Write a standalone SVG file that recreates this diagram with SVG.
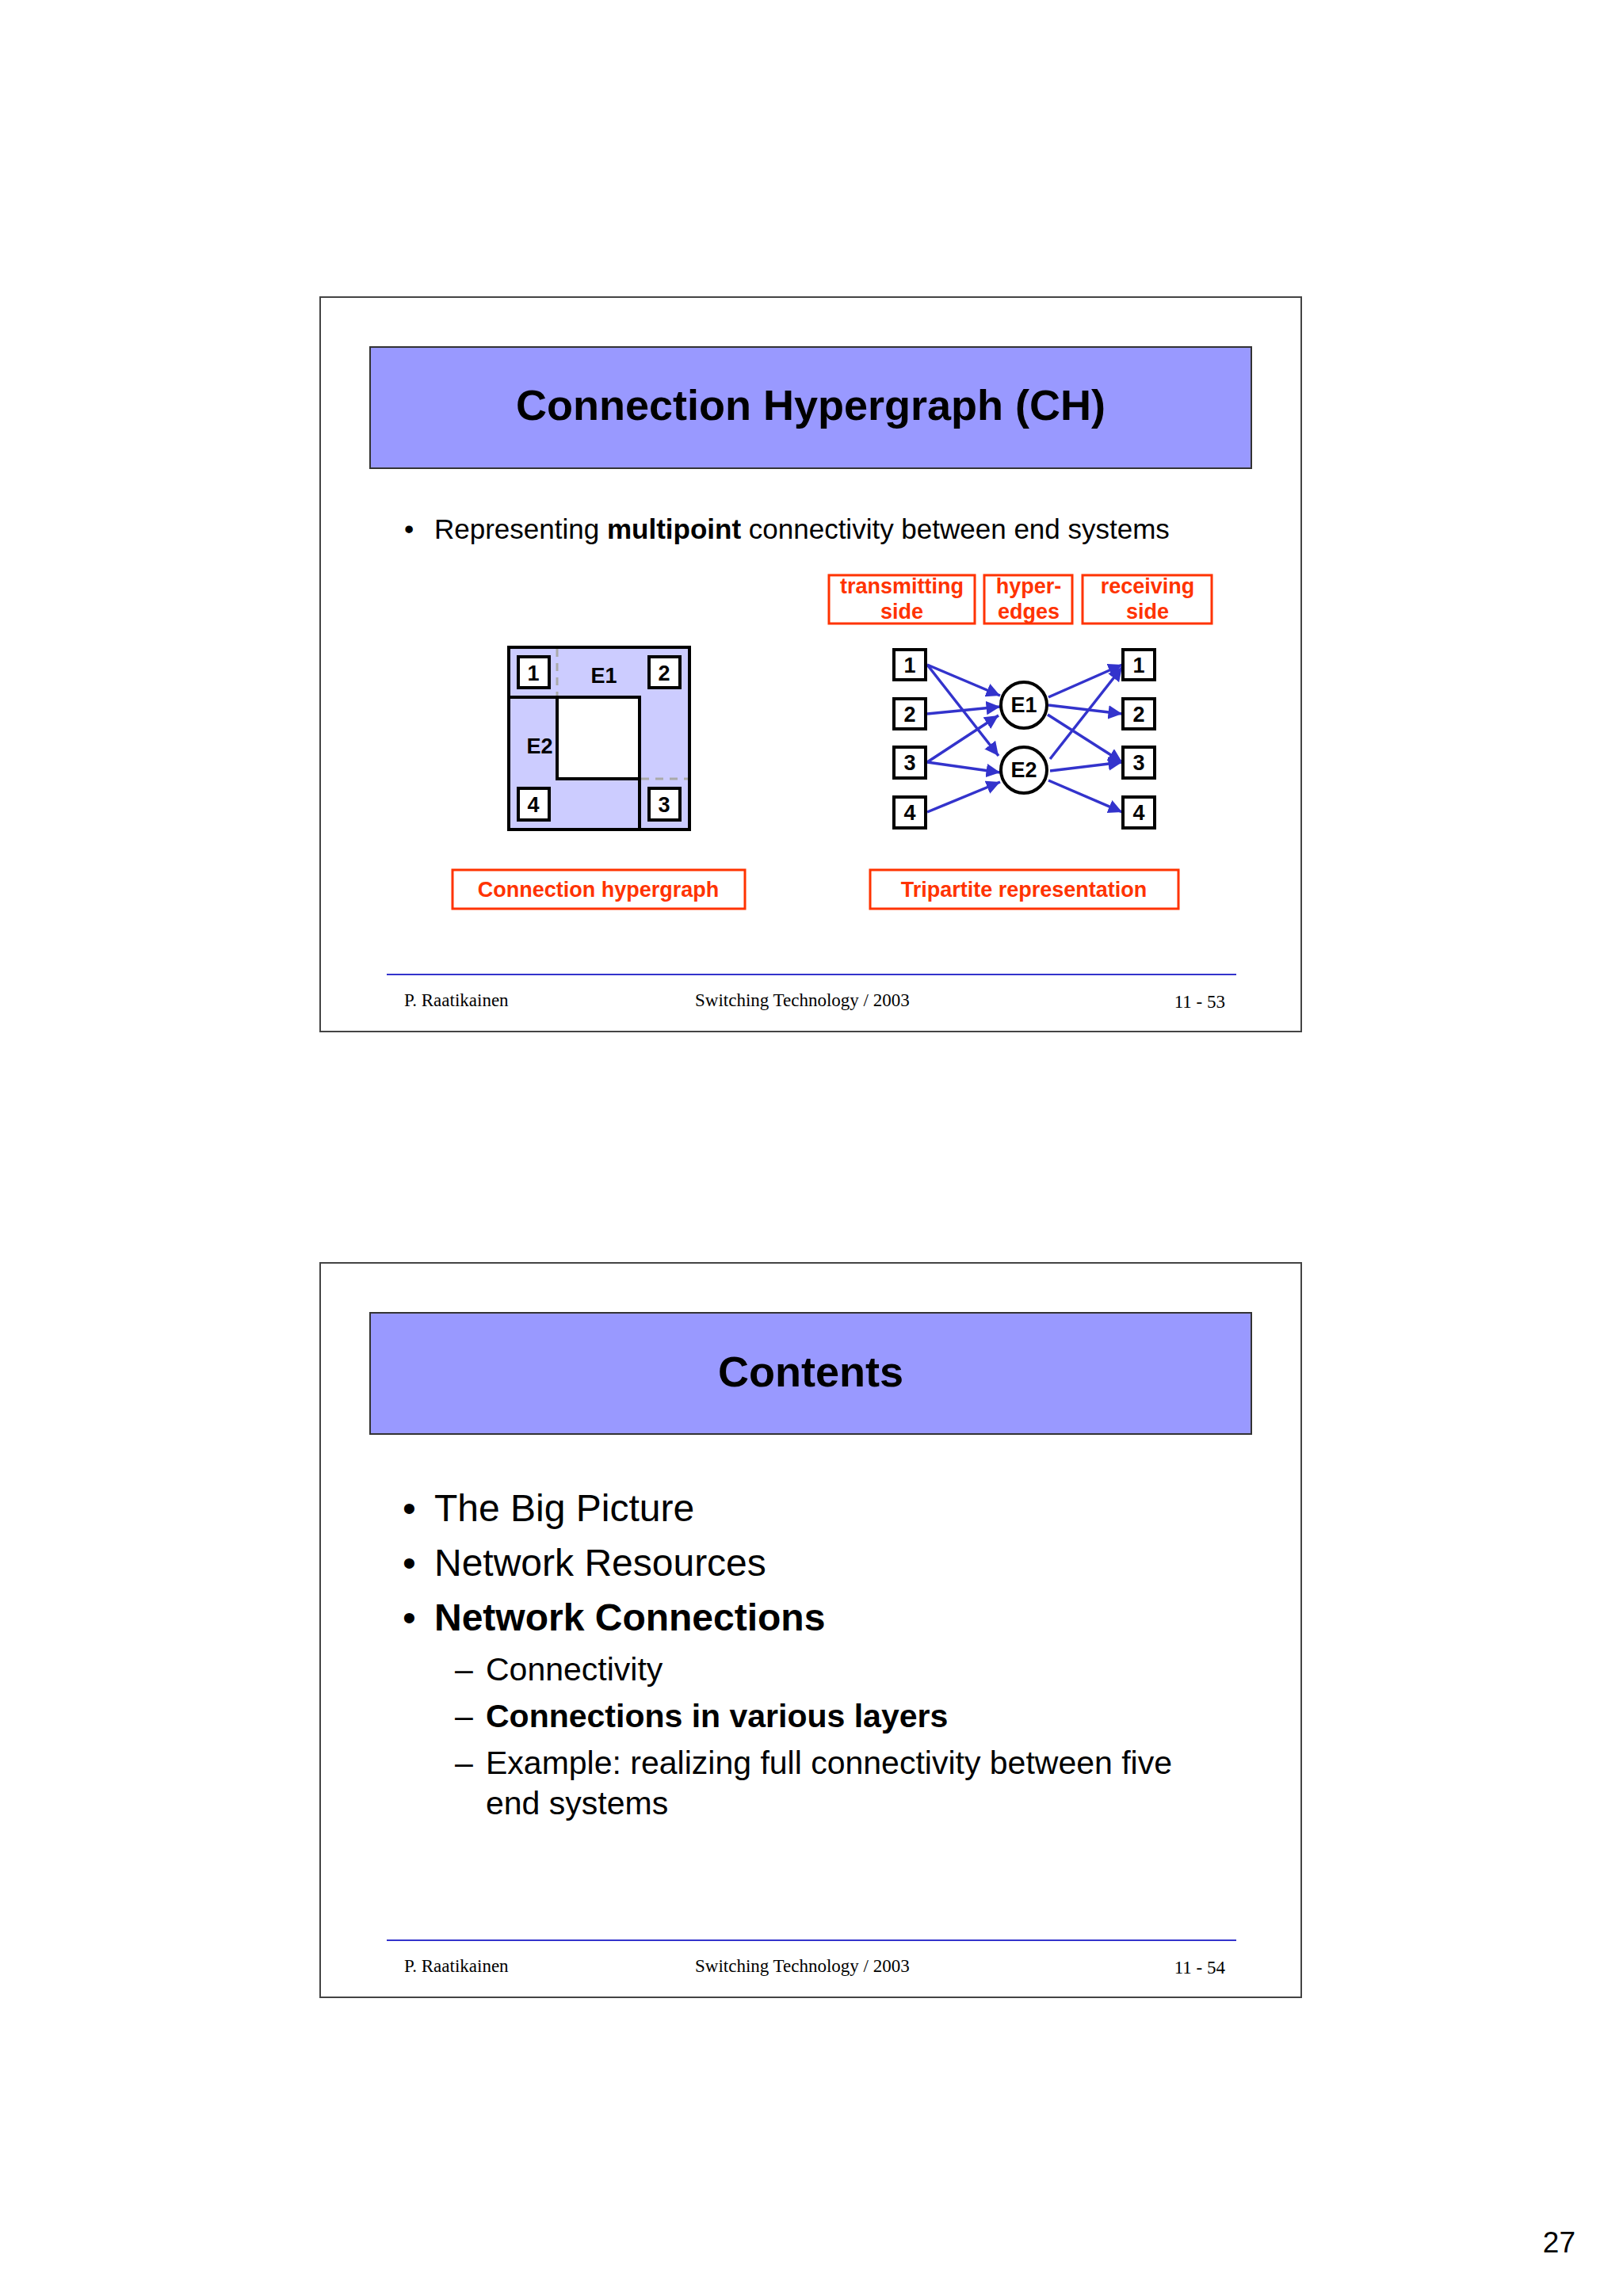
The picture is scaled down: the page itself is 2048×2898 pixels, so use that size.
<svg xmlns="http://www.w3.org/2000/svg" width="2048" height="2898" viewBox="0 0 2048 2898">
<defs>
<style>
.frame{fill:#fff;stroke:#444;stroke-width:2}
.title{fill:#9999ff;stroke:#333;stroke-width:2}
.tt{font-family:"Liberation Sans",Arial,sans-serif;font-weight:bold;font-size:54px;text-anchor:middle;fill:#000}
.b{font-family:"Liberation Sans",Arial,sans-serif;fill:#000}
.foot{font-family:"Liberation Serif","Times New Roman",serif;font-size:23px;fill:#000}
.fl{stroke:#3333cc;stroke-width:2}
.red{fill:#fff;stroke:#ff3300;stroke-width:3}
.rt{font-family:"Liberation Sans",Arial,sans-serif;font-weight:bold;font-size:27px;fill:#ff3300;text-anchor:middle}
.nb{fill:#fff;stroke:#000;stroke-width:4}
.nt{font-family:"Liberation Sans",Arial,sans-serif;font-weight:bold;font-size:27px;text-anchor:middle;fill:#000}
.arr{stroke:#3333cc;stroke-width:3.5;fill:none;marker-end:url(#ah)}
</style>
<marker id="ah" viewBox="0 0 10 10" refX="10" refY="5" markerWidth="5" markerHeight="5" orient="auto" markerUnits="strokeWidth"><path d="M0,0 L10,5 L0,10 z" fill="#3333cc"/></marker>
</defs>
<rect width="2048" height="2898" fill="#fff"/>

<g id="slide1">
<rect class="frame" x="404" y="375" width="1238" height="927"/>
<rect class="title" x="467" y="438" width="1112" height="153"/>
<text class="tt" x="1023" y="530">Connection Hypergraph (CH)</text>
<text class="b" x="510" y="680" font-size="35">•</text>
<text class="b" x="548" y="680" font-size="35">Representing <tspan font-weight="bold">multipoint</tspan> connectivity between end systems</text>
<line class="fl" x1="488" y1="1230" x2="1560" y2="1230"/>
<text class="foot" x="510" y="1270">P. Raatikainen</text>
<text class="foot" x="877" y="1270">Switching Technology  / 2003</text>
<text class="foot" x="1546" y="1272" text-anchor="end">11 - 53</text>
</g>

<g id="hypergraph">
<rect x="642" y="817" width="228" height="230" fill="#ccccff" stroke="#000" stroke-width="4"/>
<rect x="703" y="880" width="104" height="103" fill="#fff" stroke="#000" stroke-width="4"/>
<line x1="642" y1="880" x2="703" y2="880" stroke="#000" stroke-width="4"/>
<line x1="807" y1="983" x2="807" y2="1047" stroke="#000" stroke-width="4"/>
<line x1="703" y1="819" x2="703" y2="878" stroke="#aaa" stroke-width="3" stroke-dasharray="10,8"/>
<line x1="809" y1="983" x2="868" y2="983" stroke="#aaa" stroke-width="3" stroke-dasharray="10,8"/>
<g id="hg1"><rect class="nb" x="654" y="829" width="39" height="39"/><text class="nt" x="673" y="859">1</text></g>
<g id="hg2"><rect class="nb" x="819" y="829" width="39" height="39"/><text class="nt" x="838" y="859">2</text></g>
<g id="hg3"><rect class="nb" x="819" y="995" width="39" height="40"/><text class="nt" x="838" y="1025">3</text></g>
<g id="hg4"><rect class="nb" x="654" y="995" width="39" height="40"/><text class="nt" x="673" y="1025">4</text></g>
<text class="nt" x="762" y="862" font-size="26">E1</text>
<text class="nt" x="681" y="951" font-size="26">E2</text>
<rect class="red" x="571" y="1098" width="369" height="49"/>
<text class="rt" x="755" y="1132" font-size="29">Connection hypergraph</text>
</g>

<g id="labels">
<rect class="red" x="1046" y="726" width="184" height="61"/>
<text class="rt" x="1138" y="749">transmitting</text><text class="rt" x="1138" y="781">side</text>
<rect class="red" x="1242" y="726" width="111" height="61"/>
<text class="rt" x="1298" y="749">hyper-</text><text class="rt" x="1298" y="781">edges</text>
<rect class="red" x="1366" y="726" width="163" height="61"/>
<text class="rt" x="1448" y="749">receiving</text><text class="rt" x="1448" y="781">side</text>
<rect class="red" x="1098" y="1098" width="389" height="49"/>
<text class="rt" x="1292" y="1132" font-size="29">Tripartite representation</text>
</g>

<g id="connectors">
<line class="arr" x1="1170" y1="839" x2="1262" y2="878"/>
<line class="arr" x1="1170" y1="839" x2="1260" y2="954"/>
<line class="arr" x1="1170" y1="901" x2="1262" y2="892"/>
<line class="arr" x1="1170" y1="962" x2="1260" y2="903"/>
<line class="arr" x1="1170" y1="962" x2="1262" y2="975"/>
<line class="arr" x1="1170" y1="1025" x2="1262" y2="987"/>
<line class="arr" x1="1323" y1="880" x2="1416" y2="839"/>
<line class="arr" x1="1323" y1="890" x2="1416" y2="901"/>
<line class="arr" x1="1322" y1="902" x2="1416" y2="962"/>
<line class="arr" x1="1325" y1="958" x2="1416" y2="842"/>
<line class="arr" x1="1325" y1="973" x2="1416" y2="962"/>
<line class="arr" x1="1323" y1="985" x2="1416" y2="1025"/>
</g>

<g id="L1"><rect class="nb" x="1128" y="820" width="40" height="38"/><text class="nt" x="1148" y="849">1</text></g>
<g id="L2"><rect class="nb" x="1128" y="882" width="40" height="38"/><text class="nt" x="1148" y="911">2</text></g>
<g id="L3"><rect class="nb" x="1128" y="943" width="40" height="39"/><text class="nt" x="1148" y="972">3</text></g>
<g id="L4"><rect class="nb" x="1128" y="1006" width="40" height="39"/><text class="nt" x="1148" y="1035">4</text></g>
<g id="R1"><rect class="nb" x="1417" y="820" width="40" height="38"/><text class="nt" x="1437" y="849">1</text></g>
<g id="R2"><rect class="nb" x="1417" y="882" width="40" height="38"/><text class="nt" x="1437" y="911">2</text></g>
<g id="R3"><rect class="nb" x="1417" y="943" width="40" height="39"/><text class="nt" x="1437" y="972">3</text></g>
<g id="R4"><rect class="nb" x="1417" y="1006" width="40" height="39"/><text class="nt" x="1437" y="1035">4</text></g>
<g id="E1"><circle cx="1292" cy="890" r="29" fill="#fff" stroke="#000" stroke-width="4"/><text class="nt" x="1292" y="899" font-size="25">E1</text></g>
<g id="E2"><circle cx="1292" cy="972" r="29" fill="#fff" stroke="#000" stroke-width="4"/><text class="nt" x="1292" y="981" font-size="25">E2</text></g>

<g id="slide2">
<rect class="frame" x="404" y="1594" width="1238" height="927"/>
<rect class="title" x="467" y="1657" width="1112" height="153"/>
<text class="tt" x="1023" y="1750">Contents</text>
<g class="b" font-size="48">
<text x="508" y="1920">•</text><text x="548" y="1920">The Big Picture</text>
<text x="508" y="1989">•</text><text x="548" y="1989">Network Resources</text>
<text x="508" y="2058">•</text><text x="548" y="2058" font-weight="bold">Network Connections</text>
</g>
<g class="b" font-size="41">
<text x="574" y="2121">–</text><text x="613" y="2121">Connectivity</text>
<text x="574" y="2180">–</text><text x="613" y="2180" font-weight="bold">Connections in various layers</text>
<text x="574" y="2239">–</text><text x="613" y="2239">Example: realizing full connectivity between five</text>
<text x="613" y="2290">end systems</text>
</g>
<line class="fl" x1="488" y1="2449" x2="1560" y2="2449"/>
<text class="foot" x="510" y="2489">P. Raatikainen</text>
<text class="foot" x="877" y="2489">Switching Technology  / 2003</text>
<text class="foot" x="1546" y="2491" text-anchor="end">11 - 54</text>
</g>
<text class="b" x="1988" y="2843" font-size="37" text-anchor="end">27</text>
</svg>
